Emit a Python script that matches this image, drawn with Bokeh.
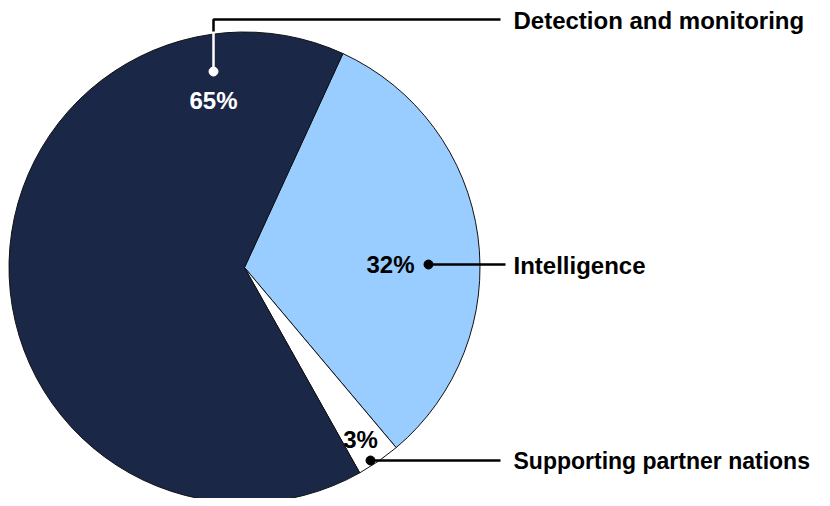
import math
from bokeh.plotting import figure
from bokeh.models import Range1d, ColumnDataSource
from bokeh.core.properties import value
from bokeh.embed import file_html
from bokeh.resources import INLINE

categories = ["Intelligence", "Supporting partner nations", "Detection and monitoring"]
shares = [32, 3, 65]
pct_labels = ["32%", "3%", "65%"]
colors = ["#99ccff", "#ffffff", "#1a2747"]

W, H = 814, 498
p = figure(width=W, height=H, output_backend="svg", toolbar_location=None,
           x_range=Range1d(0, W), y_range=Range1d(506 - H, 506),
           min_border=0, outline_line_color=None)
p.axis.visible = False
p.grid.visible = False
p.background_fill_color = "white"
p.border_fill_color = "white"

cx, cy, r = 244, 506 - 267, 235.5
start0 = math.radians(65.3)
starts, ends = [], []
acc = start0
for s in shares:
    starts.append(acc)
    acc -= s / 100 * 2 * math.pi
    ends.append(acc)

src = ColumnDataSource(dict(start=starts, end=ends, color=colors, cat=categories))
p.wedge(x=cx, y=cy, radius=r, start_angle="start", end_angle="end", direction="clock",
        fill_color="color", line_color="#111111", line_width=1, source=src)

font = value("Liberation Sans")
FS = "24px"

def Y(py):
    return 506 - py

# Detection and monitoring leader
p.line([213, 213], [Y(71), Y(31)], line_color="white", line_width=2.5)
p.line([213, 213, 500], [Y(31), Y(19), Y(19)], line_color="black", line_width=2.5)
p.scatter([213], [Y(71)], size=9, fill_color="white", line_color="white")
p.text([213], [Y(100)], text=[pct_labels[2]], text_color="white", text_font=font,
       text_font_style="bold", text_font_size=FS, text_align="center", text_baseline="middle")
p.text([513], [Y(20)], text=[categories[2]], text_color="black", text_font=font,
       text_font_style="bold", text_font_size=FS, text_align="left", text_baseline="middle")

# Intelligence leader
p.line([428, 505], [Y(264), Y(264)], line_color="black", line_width=2.5)
p.scatter([428], [Y(264)], size=9, fill_color="black", line_color="black")
p.text([414], [Y(264)], text=[pct_labels[0]], text_color="black", text_font=font,
       text_font_style="bold", text_font_size=FS, text_align="right", text_baseline="middle")
p.text([513], [Y(265)], text=[categories[0]], text_color="black", text_font=font,
       text_font_style="bold", text_font_size=FS, text_align="left", text_baseline="middle")

# Supporting partner nations leader
p.line([370, 500], [Y(460), Y(460)], line_color="black", line_width=2.5)
p.scatter([370], [Y(460)], size=9, fill_color="black", line_color="black")
p.text([360], [Y(439)], text=[pct_labels[1]], text_color="black", text_font=font,
       text_font_style="bold", text_font_size=FS, text_align="center", text_baseline="middle")
p.text([513], [Y(460)], text=[categories[1]], text_color="black", text_font=font,
       text_font_style="bold", text_font_size="23px", text_align="left", text_baseline="middle")

open("out.html", "w").write(file_html(p, INLINE))
